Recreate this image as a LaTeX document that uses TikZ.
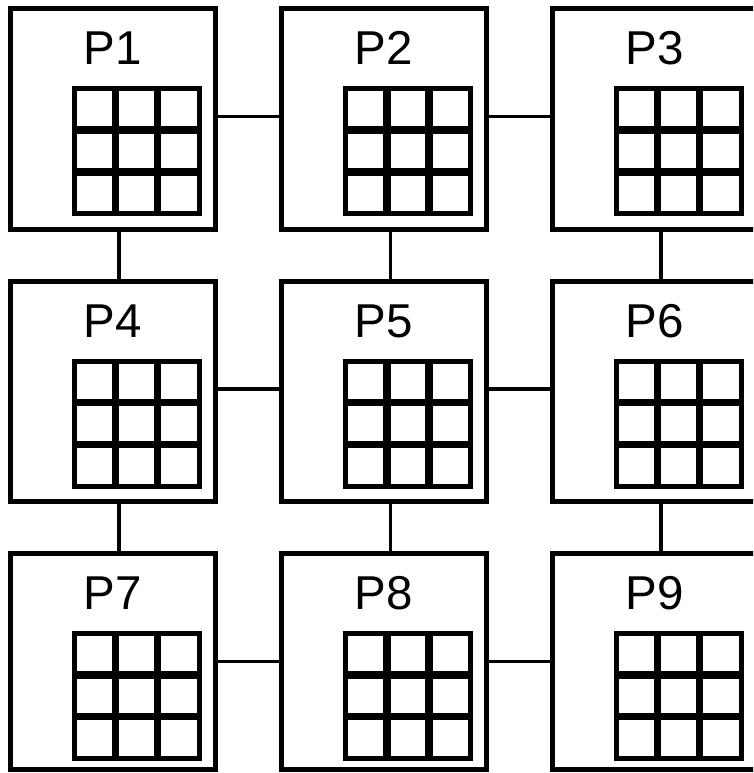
\documentclass[tikz,border=0pt]{standalone}
\usepackage{fontspec}
\setmainfont{Liberation Sans}
\usetikzlibrary{calc}
\begin{document}
\begin{tikzpicture}[x=1pt,y=-1pt,
  pbox/.style={draw, line width=5pt, rectangle, minimum width=205pt, inner sep=0pt, outer sep=0pt, anchor=north west},
  plabel/.style={font=\fontsize{47.5}{47.5}\selectfont, inner sep=0pt, text height=34pt, text depth=0pt, anchor=center},
  gridouter/.style={line width=5pt},
  gridinner/.style={line width=7.5pt},
  link/.style={line width=3.5pt}]
\useasboundingbox (0,0) rectangle (753,773);
\clip (0,0) rectangle (753,773);
\foreach \n/\x/\y/\h in {1/10/8.5/221, 2/281.5/8.5/221, 3/552/8.5/221,
                         4/10/281/220, 5/281.5/281/220, 6/552/281/220,
                         7/10/553.3/216.5, 8/281.5/553.3/216.5, 9/552/553.3/216.5}
{
  \node[pbox, minimum height=\h pt] (P\n) at (\x,\y) {};
  \node[plabel] (L\n) at ($(P\n.north)+(0,39.5)$) {P\n};
  \coordinate (G\n) at ($(P\n.north west)+(64,80)$);
  \draw[gridinner] ($(G\n)+(41.67,0)$) -- ++(0,125);
  \draw[gridinner] ($(G\n)+(83.33,0)$) -- ++(0,125);
  \draw[gridinner] ($(G\n)+(0,41.67)$) -- ++(125,0);
  \draw[gridinner] ($(G\n)+(0,83.33)$) -- ++(125,0);
  \draw[gridouter] (G\n) rectangle ++(125,125);
  \coordinate (C\n) at ($(P\n.north west)+(109,108)$);
}
% horizontal links
\draw[link] (P1.east |- C1) -- (P2.west |- C1);
\draw[link] (P2.east |- C2) -- (P3.west |- C2);
\draw[link] (P4.east |- C4) -- (P5.west |- C4);
\draw[link] (P5.east |- C5) -- (P6.west |- C5);
\draw[link] (P7.east |- C7) -- (P8.west |- C7);
\draw[link] (P8.east |- C8) -- (P9.west |- C8);
% vertical links
\draw[link] (C1 |- P1.south) -- (C1 |- P4.north);
\draw[link] (C2 |- P2.south) -- (C2 |- P5.north);
\draw[link] (C3 |- P3.south) -- (C3 |- P6.north);
\draw[link] (C4 |- P4.south) -- (C4 |- P7.north);
\draw[link] (C5 |- P5.south) -- (C5 |- P8.north);
\draw[link] (C6 |- P6.south) -- (C6 |- P9.north);
\end{tikzpicture}
\end{document}
